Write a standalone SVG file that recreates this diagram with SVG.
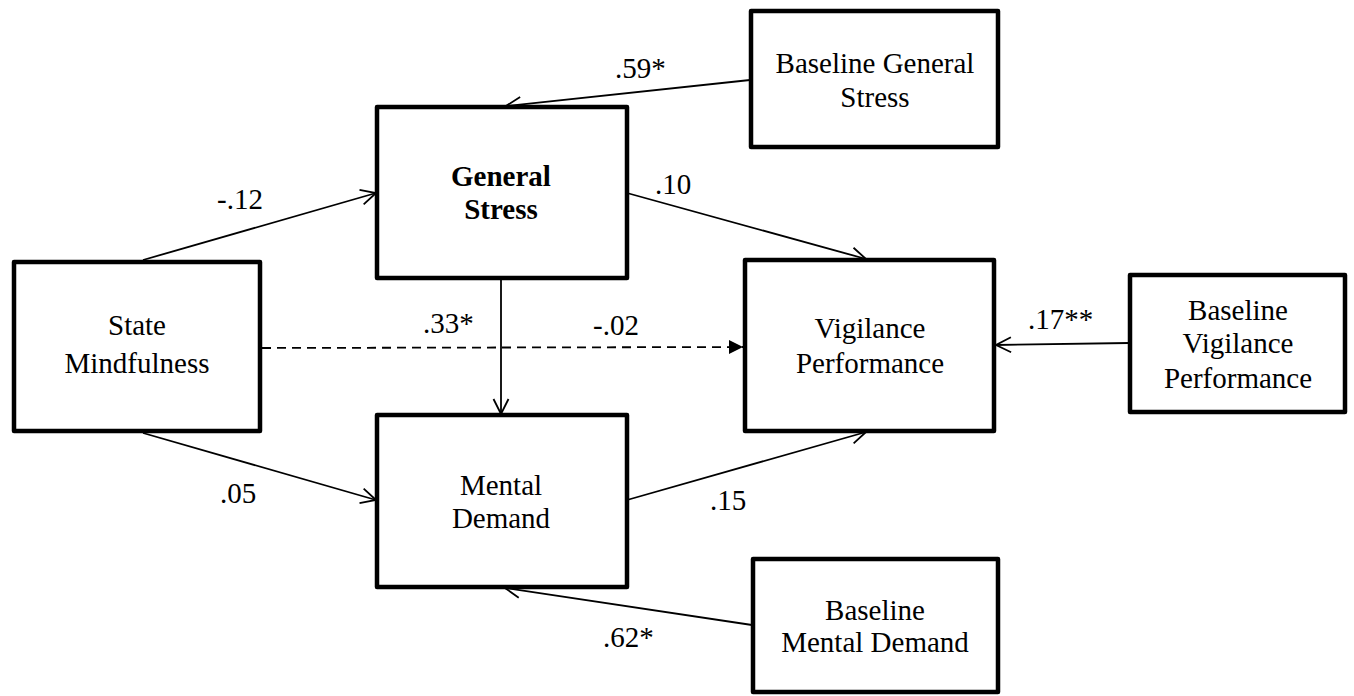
<svg xmlns="http://www.w3.org/2000/svg" width="1354" height="696" viewBox="0 0 1354 696">
  <style>
    .box { fill: #fff; stroke: #000; stroke-width: 4.5; stroke-linejoin: round; }
    text { font-size: 29px; fill: #000; }
    .lbl { text-anchor: middle; }
    .bold { font-weight: bold; }
    .edge { stroke: #000; stroke-width: 1.8; fill: none; marker-end: url(#open); }
    .dash { stroke: #000; stroke-width: 1.8; fill: none; stroke-dasharray: 9 6; marker-end: url(#solid); }
  </style>
  <defs>
    <marker id="open" markerUnits="userSpaceOnUse" markerWidth="20" markerHeight="20" viewBox="-16 -10 20 20" refX="0" refY="0" orient="auto">
      <path d="M -15 -7.5 L 0 0 L -15 7.5" fill="none" stroke="#000" stroke-width="1.8"/>
    </marker>
    <marker id="solid" markerUnits="userSpaceOnUse" markerWidth="20" markerHeight="20" viewBox="-16 -10 20 20" refX="0" refY="0" orient="auto">
      <path d="M -14 -7 L 0 0 L -14 7 Z" fill="#000"/>
    </marker>
  </defs>

  <g id="connectors">
    <line class="edge" x1="750" y1="80" x2="506" y2="106"/>
    <line class="edge" x1="143" y1="260" x2="376" y2="193"/>
    <line class="edge" x1="143" y1="433" x2="376" y2="500"/>
    <line class="dash" x1="262" y1="348" x2="743" y2="347"/>
    <line class="edge" x1="501" y1="278" x2="501" y2="414"/>
    <line class="edge" x1="627" y1="193" x2="866" y2="259"/>
    <line class="edge" x1="627" y1="500" x2="866" y2="432"/>
    <line class="edge" x1="1129" y1="343" x2="996" y2="345"/>
    <line class="edge" x1="752" y1="625" x2="505" y2="588"/>
  </g>

  <g font-family="Liberation Serif, Times New Roman, DejaVu Serif, serif">
    <g id="state-mindfulness">
      <rect class="box" x="14" y="262" width="246" height="169"/>
      <text class="lbl" x="137" y="335">State</text>
      <text class="lbl" x="137" y="373">Mindfulness</text>
    </g>

    <g id="general-stress">
      <rect class="box" x="377" y="107" width="250" height="171"/>
      <text class="lbl bold" x="501" y="186">General</text>
      <text class="lbl bold" x="501" y="219">Stress</text>
    </g>

    <g id="mental-demand">
      <rect class="box" x="377" y="415" width="250" height="172"/>
      <text class="lbl" x="501" y="495">Mental</text>
      <text class="lbl" x="501" y="528">Demand</text>
    </g>

    <g id="vigilance-performance">
      <rect class="box" x="745" y="260" width="249" height="171"/>
      <text class="lbl" x="870" y="338">Vigilance</text>
      <text class="lbl" x="870" y="373">Performance</text>
    </g>

    <g id="baseline-general-stress">
      <rect class="box" x="751" y="11" width="247" height="136"/>
      <text class="lbl" x="875" y="73">Baseline General</text>
      <text class="lbl" x="875" y="107">Stress</text>
    </g>

    <g id="baseline-vigilance-performance">
      <rect class="box" x="1130" y="275" width="215" height="137"/>
      <text class="lbl" x="1238" y="320">Baseline</text>
      <text class="lbl" x="1238" y="353">Vigilance</text>
      <text class="lbl" x="1238" y="388">Performance</text>
    </g>

    <g id="baseline-mental-demand">
      <rect class="box" x="753" y="559" width="245" height="133"/>
      <text class="lbl" x="875" y="620">Baseline</text>
      <text class="lbl" x="875" y="652">Mental Demand</text>
    </g>

    <!-- path coefficients, drawn last so no box covers them -->
    <g id="coefficients">
      <text x="615" y="78">.59*</text>
      <text x="217" y="209">-.12</text>
      <text x="655" y="194">.10</text>
      <text x="423" y="333">.33*</text>
      <text x="593" y="335">-.02</text>
      <text x="1028" y="329">.17**</text>
      <text x="220" y="503">.05</text>
      <text x="710" y="510">.15</text>
      <text x="603" y="647">.62*</text>
    </g>
  </g>
</svg>
